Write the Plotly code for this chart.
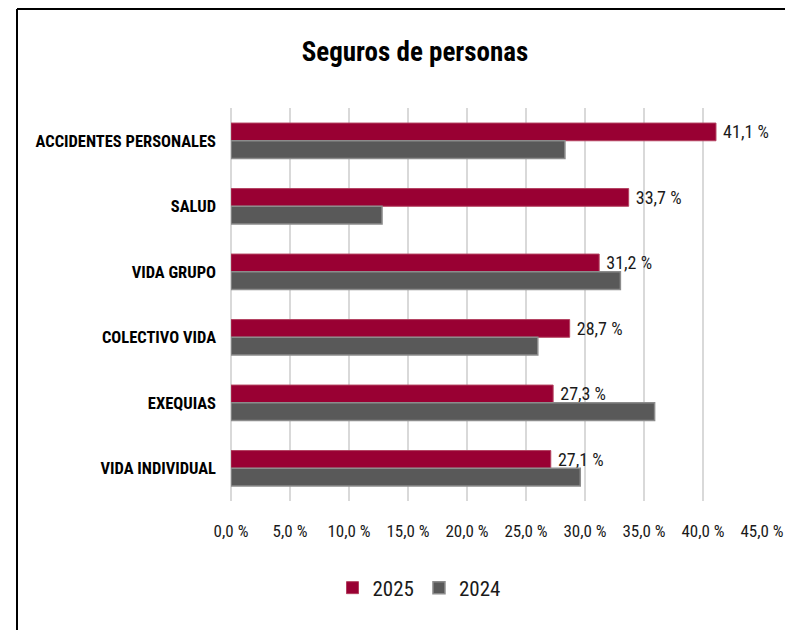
import plotly.graph_objects as go

categories = ["ACCIDENTES PERSONALES", "SALUD", "VIDA GRUPO", "COLECTIVO VIDA", "EXEQUIAS", "VIDA INDIVIDUAL"]
values_2025 = [41.1, 33.7, 31.2, 28.7, 27.3, 27.1]
values_2024 = [28.3, 12.8, 33.0, 26.0, 35.9, 29.6]
tick_vals = [0, 5, 10, 15, 20, 25, 30, 35, 40, 45]
tick_text = ["0,0 %", "5,0 %", "10,0 %", "15,0 %", "20,0 %", "25,0 %", "30,0 %", "35,0 %", "40,0 %", "45,0 %"]

FONT = "Roboto Condensed, Liberation Sans Narrow, DejaVu Sans Condensed, Arial Narrow, sans-serif"

fig = go.Figure()
fig.add_trace(go.Bar(
    y=categories, x=values_2025, name="2025", orientation="h",
    marker=dict(color="#990033", line=dict(color="#b3405f", width=1)),
    texttemplate="\u00a0%{x:.1f} %", textposition="outside",
    textfont=dict(family=FONT, size=18, color="#1a1a1a"),
    constraintext="none",
    cliponaxis=False,
))
fig.add_trace(go.Bar(
    y=categories, x=values_2024, name="2024", orientation="h",
    marker=dict(color="#595959", line=dict(color="#8c8c8c", width=1.5)),
))

# page body has an 8px offset; work in figure coordinates
O = 8
W, H = 793 - O, 630 - O
L, R, T = 231 - O, 31, 108 - O
B = H - (500.7 - O)
pw = W - L - R
ph = H - T - B

def px_x(p):
    return (p - O - L) / pw

def px_y(p):
    return (H - B - (p - O)) / ph

fig.update_layout(
    width=W, height=H,
    margin=dict(l=L, r=R, t=T, b=B, autoexpand=False),
    paper_bgcolor="white", plot_bgcolor="white",
    separators=", ",
    barmode="group", bargap=0.46, bargroupgap=0,
    title=dict(text="<b>Seguros de personas</b>", x=(415 - O) / W, xanchor="center",
               y=1 - (52 - O) / H, yanchor="middle", yref="container",
               font=dict(family=FONT, size=27, color="black")),
    xaxis=dict(range=[0, 45], tickvals=tick_vals, ticktext=tick_text,
               showgrid=True, gridcolor="#d9d9d9", gridwidth=1.5,
               zeroline=True, zerolinecolor="#d9d9d9", zerolinewidth=1.5,
               showline=False, ticks="", ticklabelstandoff=18, automargin=False,
               tickangle=0,
               tickfont=dict(family=FONT, size=17, color="#1a1a1a")),
    yaxis=dict(autorange="reversed", showgrid=False, zeroline=False, showline=False,
               ticks="", ticklabelstandoff=14, automargin=False,
               tickfont=dict(family=FONT, size=16.5, color="black", weight="bold")),
    legend=dict(orientation="h", x=(419 - O) / W, xanchor="center", xref="container",
                y=1 - (588 - O) / H, yanchor="middle", yref="container",
                font=dict(family=FONT, size=21, color="#1a1a1a"),
                traceorder="normal"),
    showlegend=True,
    shapes=[
        dict(type="line", xref="paper", yref="paper", x0=px_x(17), x1=px_x(17), y0=px_y(9), y1=px_y(700),
             line=dict(color="black", width=2)),
        dict(type="line", xref="paper", yref="paper", x0=px_x(17), x1=px_x(900), y0=px_y(9), y1=px_y(9),
             line=dict(color="black", width=2)),
    ],
)

fig.write_html("out.html")
